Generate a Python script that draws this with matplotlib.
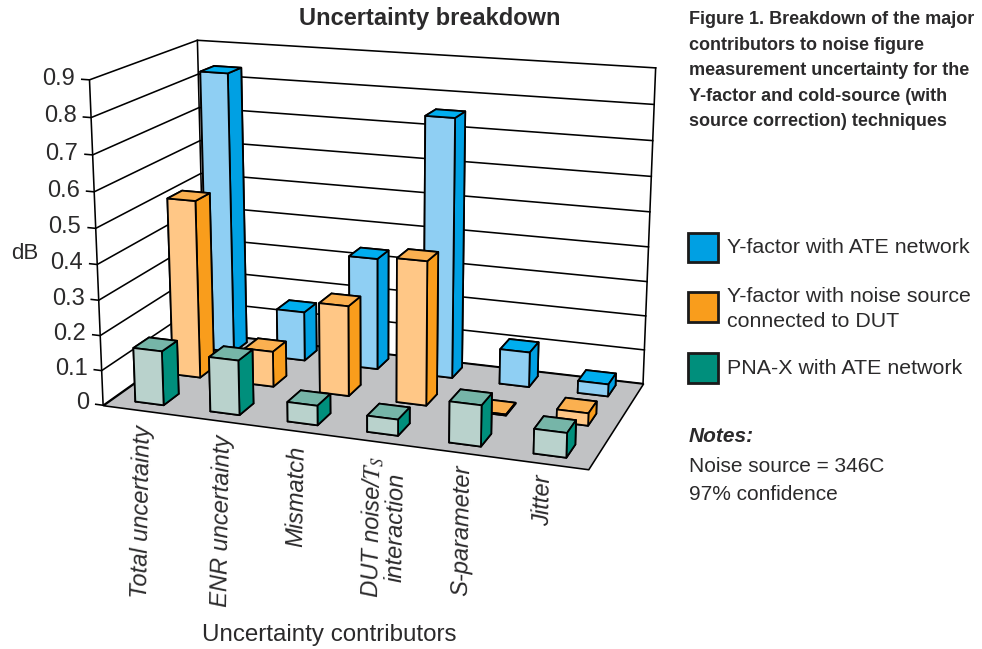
import numpy as np, matplotlib
matplotlib.use('Agg')
import matplotlib.pyplot as plt
from matplotlib.patches import Rectangle
from mpl_toolkits.mplot3d import proj3d
from mpl_toolkits.mplot3d.art3d import Poly3DCollection

W, H = 982, 649
INK = '#2b2a2b'
plt.rcParams['font.family'] = ['Liberation Sans']
plt.rcParams['mathtext.fontset'] = 'stix'

categories = ['Total uncertainty', 'ENR uncertainty', 'Mismatch',
              'DUT noise/$\\mathit{T}_{\\mathit{S}}$\ninteraction', 'S-parameter', 'Jitter']
series_names = ['PNA-X with ATE network',
                'Y-factor with noise source\nconnected to DUT',
                'Y-factor with ATE network']
pna_x = [0.155, 0.155, 0.055, 0.045, 0.113, 0.067]
yf_noise = [0.518, 0.103, 0.26, 0.41, 0.003, 0.035]
yf_ate = [0.835, 0.147, 0.33, 0.753, 0.102, 0.035]
z_ticks = [0, 0.1, 0.2, 0.3, 0.4, 0.5, 0.6, 0.7, 0.8, 0.9]
z_tick_labels = ['0', '0.1', '0.2', '0.3', '0.4', '0.5', '0.6', '0.7', '0.8', '0.9']

# faces: bottom, top, front, back, left, right
teal = ['#76b5a8', '#76b5a8', '#b9d2cc', '#b9d2cc', '#008f7c', '#008f7c']
orange = ['#fbb050', '#fbb050', '#ffc786', '#ffc786', '#f99d1c', '#f99d1c']
blue = ['#00aeef', '#00aeef', '#8fcff3', '#8fcff3', '#00a0e3', '#00a0e3']
rows = [(pna_x, teal), (yf_noise, orange), (yf_ate, blue)]


def px(x, y):
    return x / W, 1 - y / H


fig = plt.figure(figsize=(W / 100, H / 100), dpi=100)
ax = fig.add_axes([54.38 / W, 88.21 / H, 628.98 / W, 628.98 / H], projection='3d',
                  computed_zorder=False)
ax.set_proj_type('persp', focal_length=np.exp(-0.5999))
ax.view_init(15.4482, -70.4241, 0.0123)
ax.set_box_aspect((1, 0.4908, 0.6655))
ax.set_xlim(0, 6, view_margin=0)
ax.set_ylim(0, 3, view_margin=0)
ax.set_zlim(0, 0.9, view_margin=0)
ax.set_zticks(z_ticks)
ax.set_axis_off()
ax.patch.set_alpha(0)


def data_to_fig(x, y, z):
    u, v, _ = proj3d.proj_transform(x, y, z, ax.get_proj())
    return fig.transFigure.inverted().transform(ax.transData.transform((u, v)))


lw = 1.15
floor = Poly3DCollection([[(0, 0, 0), (6, 0, 0), (6, 3, 0), (0, 3, 0)]],
                         facecolor='#c1c2c4', edgecolor='black', linewidth=lw, zorder=1)
ax.add_collection3d(floor)
for z, lab in zip(z_ticks, z_tick_labels):
    ax.plot([-0.1, 0, 0, 6], [0, 0, 3, 3], [z, z, z, z], color='black', lw=lw, zorder=0.5)
    fx, fy = data_to_fig(-0.19, 0, z)
    fig.text(fx, fy, lab, ha='right', va='center', fontsize=17, color=INK)
ax.plot([0, 0], [0, 0], [0, 0.9], color='black', lw=lw, zorder=0.5)
ax.plot([0, 0], [3, 3], [0, 0.9], color='black', lw=lw, zorder=0.5)
ax.plot([6, 6], [3, 3], [0, 0.9], color='black', lw=lw, zorder=0.5)

bar_w, bar_d = 0.38, 0.43
order = 2
for j in (2, 1, 0):
    vals, cols = rows[j]
    for i, v in enumerate(vals):
        c = ax.bar3d(i + 0.31, 0.25 + 1.07 * j, 0, bar_w, bar_d, v, color=cols, shade=False,
                     edgecolor='black', linewidth=1.3)
        c.set_zorder(order)
        order += 1

label_anchor = [(144, 425), (224, 435), (298, 446), (385, 456), (463, 465), (543, 475)]
for name, (x, y) in zip(categories, label_anchor):
    fig.text(*px(x, y), name, rotation=89, rotation_mode='anchor', ha='right', va='center',
             style='italic', fontsize=17, color=INK, linespacing=0.95, multialignment='center')

fig.text(*px(430, 19), 'Uncertainty breakdown', fontsize=17, fontweight='bold',
         ha='center', va='center', color=INK)
fig.text(*px(329, 635), 'Uncertainty contributors', fontsize=17.4, ha='center', va='center', color=INK)
fig.text(*px(25, 253), 'dB', fontsize=16, ha='center', va='center', color=INK)

caption = ['Figure 1. Breakdown of the major', 'contributors to noise figure',
           'measurement uncertainty for the', 'Y-factor and cold-source (with',
           'source correction) techniques']
for k, line in enumerate(caption):
    fig.text(*px(689, 20 + 25.4 * k), line, fontsize=13, fontweight='bold', ha='left', va='center',
             color=INK)

legend_y = [(233, 262), (292, 322), (353, 383)]
legend_text_y = [247, 309, 368]
legend_colors = ['#00a0e3', '#f99d1c', '#008f7c']
legend_text = [series_names[2], series_names[1], series_names[0]]
for (y0, y1), ty, col, lab in zip(legend_y, legend_text_y, legend_colors, legend_text):
    fig.add_artist(Rectangle((688 / W, 1 - y1 / H), 30 / W, (y1 - y0) / H, transform=fig.transFigure,
                             facecolor=col, edgecolor='#1a1a1a', linewidth=2))
    fig.text(*px(727, ty), lab, fontsize=15.4, ha='left', va='center', color=INK, linespacing=1.4)

fig.text(*px(689, 437), 'Notes:', fontsize=15, fontweight='bold', style='italic', ha='left',
         va='center', color=INK)
fig.text(*px(689, 466), 'Noise source = 346C', fontsize=15, ha='left', va='center', color=INK)
fig.text(*px(689, 494), '97% confidence', fontsize=15, ha='left', va='center', color=INK)

fig.savefig('out.png', dpi=100)
